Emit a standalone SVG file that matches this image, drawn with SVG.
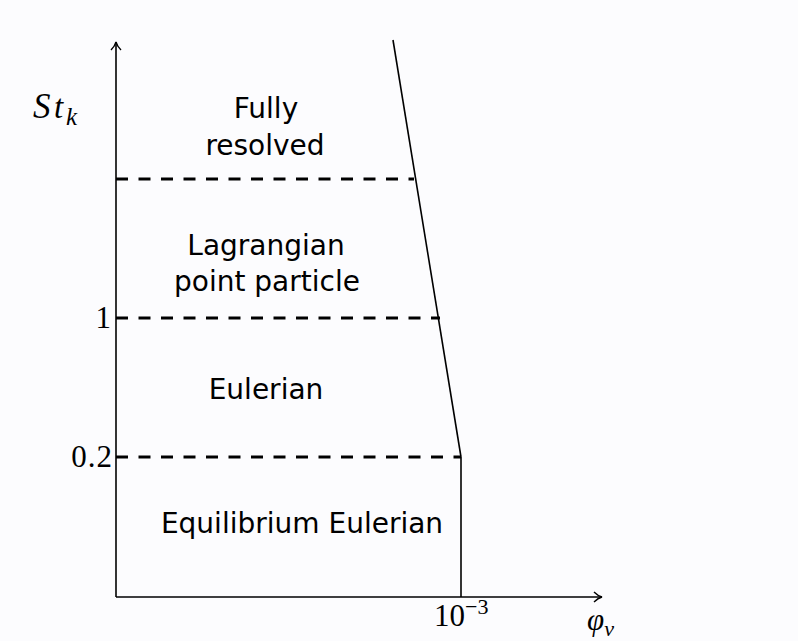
<svg xmlns="http://www.w3.org/2000/svg" width="798" height="641" viewBox="0 0 798 641">
<style>
.ax{stroke:#000;stroke-width:1.6;fill:none}
.dash{stroke:#000;stroke-width:3;stroke-dasharray:12 10.5;fill:none}
.lbl{font-family:"DejaVu Sans","Liberation Sans",sans-serif;font-size:28px;fill:#000;text-anchor:middle}
.math{font-family:"Liberation Serif",serif;font-size:31px;fill:#000}
</style>
<defs>
<marker id="arr" markerWidth="12" markerHeight="12" refX="10" refY="6" orient="auto" markerUnits="userSpaceOnUse">
<path d="M2,1 Q6,5 10,6 Q6,7 2,11" fill="none" stroke="#000" stroke-width="1.4"/>
</marker>
</defs>
<rect width="798" height="641" fill="#fcfcfe"/>
<g id="connectors">
<line class="ax" x1="116" y1="597" x2="116" y2="42" marker-end="url(#arr)"/>
<line class="ax" x1="116" y1="597" x2="602" y2="597" marker-end="url(#arr)"/>
<line class="ax" x1="393" y1="40" x2="461" y2="457"/>
<line class="ax" x1="461" y1="457" x2="461" y2="597"/>
<line class="dash" x1="116" y1="179" x2="414" y2="179"/>
<line class="dash" x1="116" y1="318" x2="440" y2="318"/>
<line class="dash" x1="116" y1="457" x2="461" y2="457"/>
</g>
<g id="axis-labels">
<text class="math" y="118" font-style="italic"><tspan x="33" font-size="35">S</tspan><tspan x="54" font-size="33">t</tspan><tspan x="66" dy="7" font-size="25">k</tspan></text>
<text class="math" x="111" y="328" text-anchor="end">1</text>
<text class="math" x="113" y="467" text-anchor="end" letter-spacing="1">0.2</text>
<text class="math" x="434" y="626">10<tspan font-size="22" dy="-12">−3</tspan></text>
<text class="math" x="587" y="630" font-style="italic">φ<tspan font-size="22" dy="6">v</tspan></text>
</g>
<g id="fully-resolved">
<text class="lbl" x="266" y="118">Fully</text>
<text class="lbl" x="265" y="155">resolved</text>
</g>
<g id="lagrangian">
<text class="lbl" x="266" y="255">Lagrangian</text>
<text class="lbl" x="267" y="291">point particle</text>
</g>
<g id="eulerian">
<text class="lbl" x="266" y="399">Eulerian</text>
</g>
<g id="equilibrium-eulerian">
<text class="lbl" x="302" y="533">Equilibrium Eulerian</text>
</g>
</svg>
